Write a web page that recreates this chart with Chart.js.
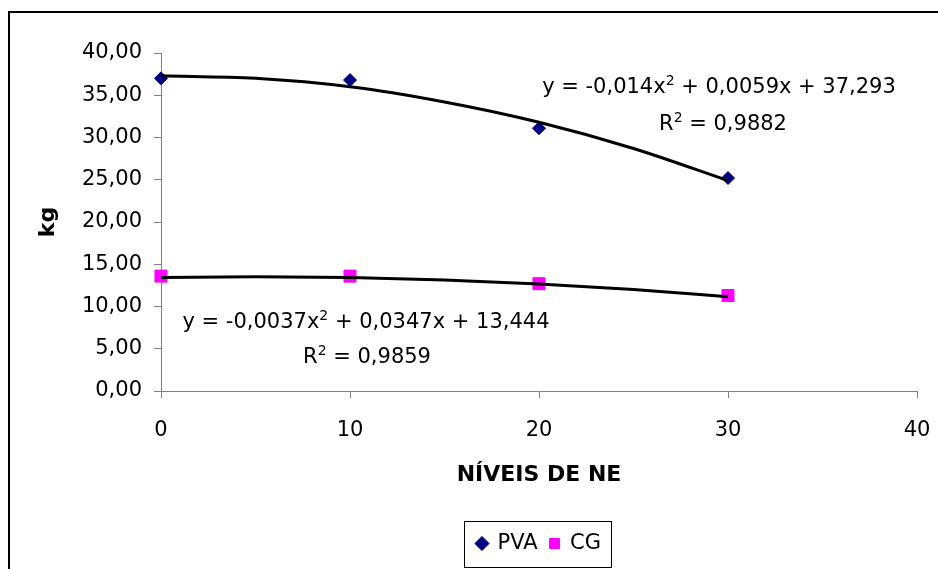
<!DOCTYPE html>
<html>
<head>
<meta charset="utf-8">
<script src="https://cdn.jsdelivr.net/npm/chart.js@4"></script>
<style>
  html, body { margin: 0; padding: 0; background: #fff; }
  #wrap { width: 938px; height: 569px; }
</style>
</head>
<body>
<div id="wrap"><canvas id="chart" width="938" height="569"></canvas></div>
<script>
// valores
const niveis = [0, 10, 20, 30];
const pva = [37.0, 36.8, 31.1, 25.2];
const cg = [13.6, 13.6, 12.7, 11.3];

// linhas de tendência
const trendX = [0, 5, 10, 15, 20, 25, 30];
const pvaTrend = [37.3, 37.0, 36.0, 34.2, 31.8, 28.7, 24.9];
const cgTrend = [13.44, 13.52, 13.42, 13.13, 12.66, 12.0, 11.16];

const xTicks = [0, 10, 20, 30, 40];
const yTickValues = [0, 5, 10, 15, 20, 25, 30, 35, 40];
const yTickLabels = ['0,00', '5,00', '10,00', '15,00', '20,00', '25,00', '30,00', '35,00', '40,00'];

// equações: [texto, expoente, resto]
const eqPva = ['y = -0,014x', '2', ' + 0,0059x + 37,293'];
const r2Pva = ['R', '2', ' = 0,9882'];
const eqCg = ['y = -0,0037x', '2', ' + 0,0347x + 13,444'];
const r2Cg = ['R', '2', ' = 0,9859'];

const FONT = 'DejaVu Sans';
Chart.defaults.font.family = FONT;
Chart.defaults.color = '#000';

const toPts = (xs, ys) => xs.map((x, i) => ({ x: x, y: ys[i] }));

function drawEq(ctx, parts, cx, cy) {
  const big = '21px "' + FONT + '"';
  const small = '14px "' + FONT + '"';
  ctx.font = big;
  const w0 = ctx.measureText(parts[0]).width;
  const w2 = ctx.measureText(parts[2]).width;
  ctx.font = small;
  const w1 = ctx.measureText(parts[1]).width;
  let x = cx - (w0 + w1 + w2) / 2;
  const base = cy + 7.5;
  ctx.textAlign = 'left';
  ctx.textBaseline = 'alphabetic';
  ctx.fillStyle = '#000';
  ctx.font = big;
  ctx.fillText(parts[0], x, base);
  x += w0;
  ctx.font = small;
  ctx.fillText(parts[1], x, base - 8);
  x += w1;
  ctx.font = big;
  ctx.fillText(parts[2], x, base);
}

const extras = {
  id: 'extras',
  afterDraw(chart) {
    const ctx = chart.ctx;
    ctx.save();
    // equações das tendências
    drawEq(ctx, eqPva, 719, 85);
    drawEq(ctx, r2Pva, 723, 122);
    drawEq(ctx, eqCg, 366, 320);
    drawEq(ctx, r2Cg, 367, 355);

    // caixa da legenda
    const hb = chart.legend.legendHitBoxes;
    if (hb && hb.length) {
      const l = Math.min(...hb.map(h => h.left)) - 13;
      const r = Math.max(...hb.map(h => h.left + h.width)) + 10;
      const c = hb[0].top + hb[0].height / 2;
      ctx.strokeStyle = '#000';
      ctx.lineWidth = 1;
      ctx.strokeRect(Math.round(l) + 0.5, Math.round(c - 23) + 0.5, Math.round(r - l), 46);
    }

    // moldura externa
    ctx.strokeStyle = '#000';
    ctx.lineWidth = 2;
    ctx.strokeRect(9, 12, 2000, 2000);
    ctx.restore();
  }
};

const ctx = document.getElementById('chart').getContext('2d');

new Chart(ctx, {
  type: 'scatter',
  data: {
    datasets: [
      {
        label: 'Tendência PVA',
        data: toPts(trendX, pvaTrend),
        showLine: true,
        borderColor: '#000',
        borderWidth: 3,
        pointRadius: 0,
        cubicInterpolationMode: 'monotone',
        trend: true,
        clip: false
      },
      {
        label: 'Tendência CG',
        data: toPts(trendX, cgTrend),
        showLine: true,
        borderColor: '#000',
        borderWidth: 3,
        pointRadius: 0,
        cubicInterpolationMode: 'monotone',
        trend: true,
        clip: false
      },
      {
        label: 'PVA',
        data: toPts(niveis, pva),
        pointStyle: 'rectRot',
        pointRadius: 6.5,
        backgroundColor: '#000080',
        borderColor: '#000080',
        borderWidth: 1,
        clip: false
      },
      {
        label: 'CG',
        data: toPts(niveis, cg),
        pointStyle: 'rect',
        pointRadius: 8.5,
        backgroundColor: '#FF00FF',
        borderColor: '#FF00FF',
        borderWidth: 1,
        clip: false
      }
    ]
  },
  options: {
    responsive: false,
    animation: false,
    layout: { padding: { top: 53, right: 21, bottom: 5, left: 0 } },
    scales: {
      x: {
        type: 'linear',
        min: 0,
        max: 40,
        afterBuildTicks: s => { s.ticks = xTicks.map(v => ({ value: v })); },
        afterFit: s => { s.height = 130; s.paddingLeft = 0; s.paddingRight = 0; },
        ticks: { font: { size: 21 }, padding: 20, color: '#000' },
        grid: { drawOnChartArea: false, drawTicks: true, tickLength: 7, color: '#808080' },
        border: { color: '#808080', width: 1 },
        title: {
          display: true,
          text: 'NÍVEIS DE NE',
          font: { size: 22, weight: 'bold' },
          padding: { top: 0, bottom: 33 }
        }
      },
      y: {
        min: 0,
        max: 40,
        afterBuildTicks: s => { s.ticks = yTickValues.map(v => ({ value: v })); },
        afterFit: s => { s.width = 161; },
        ticks: {
          font: { size: 21 },
          padding: 12,
          color: '#000',
          callback: (v, i) => yTickLabels[i]
        },
        grid: { drawOnChartArea: false, drawTicks: true, tickLength: 7, color: '#808080' },
        border: { color: '#808080', width: 1 },
        title: {
          display: true,
          text: 'kg',
          font: { size: 22, weight: 'bold' },
          padding: { top: 35, bottom: 0 }
        }
      }
    },
    plugins: {
      legend: {
        position: 'bottom',
        fullSize: false,
        labels: {
          usePointStyle: true,
          boxWidth: 10,
          boxHeight: 10,
          padding: 12,
          font: { size: 21 },
          color: '#000',
          filter: (item, data) => !data.datasets[item.datasetIndex].trend
        }
      },
      tooltip: { enabled: false }
    }
  },
  plugins: [extras]
});
</script>
</body>
</html>
